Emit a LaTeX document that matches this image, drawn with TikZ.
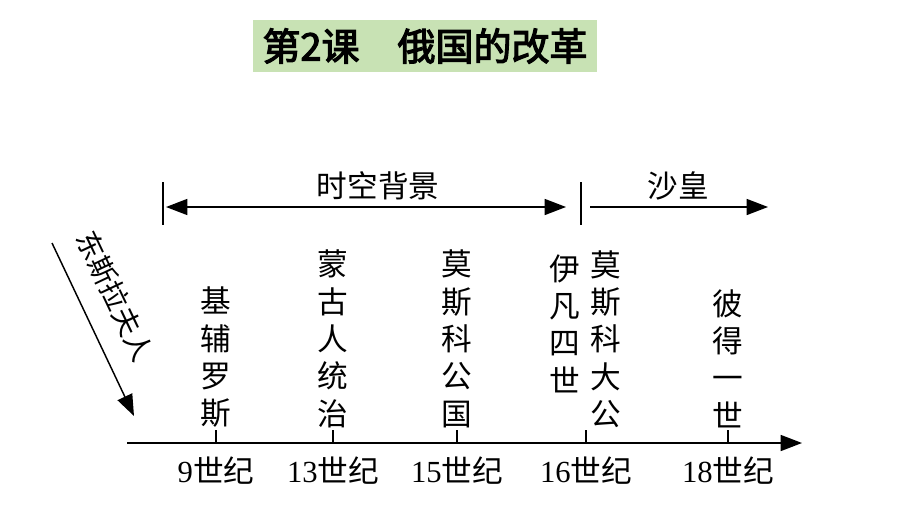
\documentclass[tikz,border=0pt]{standalone}
\usepackage{fontspec}
\usetikzlibrary{arrows.meta}
\setmainfont{Liberation Serif}
\newfontfamily\cjk{Noto Sans CJK SC}
\newfontfamily\cjkb{Noto Sans CJK SC}[FakeBold=3]
\definecolor{titlegreen}{RGB}{200,226,180}
\tikzset{
  axis/.style={line width=1.1pt, -{Triangle[length=16pt,width=12pt]}},
  tick/.style={line width=0.9pt},
  vlabel/.style={font=\cjk\fontsize{23}{28}\selectfont, align=center, inner sep=0pt, anchor=south},
  clabel/.style={font=\fontsize{23}{26}\selectfont, inner sep=0pt},
  toplabel/.style={font=\cjk\fontsize{23}{26}\selectfont, inner sep=0pt},
}
\begin{document}
\begin{tikzpicture}[x=0.75pt,y=-0.75pt]
\useasboundingbox (0,0) rectangle (920,518);
% title
\node[fill=titlegreen, minimum width=344*0.75pt, minimum height=52*0.75pt, inner sep=0pt,
  font=\cjkb\fontsize{28.5}{30}\selectfont] (title) at (425,46) {第2课\hspace{1em}俄国的改革};
% axis
\coordinate (a0) at (127,443);
\coordinate (a1) at (802,443);
\draw[axis] (a0) -- (a1);
% ticks and labels
\foreach \x/\n/\lab in {216/t1/9, 333/t2/13, 457/t3/15, 586/t4/16, 728/t5/18}{
  \coordinate (\n) at (\x,443);
  \draw[tick] (\n) -- ++(0,-13);
  \node[clabel, anchor=center] (\n lab) at (\x,471) {\lab{\cjk 世纪}};
}
% vertical labels
\node[vlabel] (v1) at (216,428) {基\\辅\\罗\\斯};
\node[vlabel] (v2) at (333,428) {蒙\\古\\人\\统\\治};
\node[vlabel] (v3) at (457,428) {莫\\斯\\科\\公\\国};
\node[vlabel] (v4) at (565,393) {伊\\凡\\四\\世};
\node[vlabel] (v5) at (606,428) {莫\\斯\\科\\大\\公};
\node[vlabel] (v6) at (728,428) {彼\\得\\一\\世};
% top arrows
\coordinate (b0) at (163,182);
\coordinate (b0e) at (163,225);
\coordinate (b1) at (581,182);
\coordinate (b1e) at (581,225);
\draw[tick] (b0) -- (b0e);
\draw[tick] (b1) -- (b1e);
\coordinate (l0) at (166,207);
\coordinate (l1) at (566,207);
\coordinate (r0) at (590,207);
\coordinate (r1) at (768,207);
\draw[line width=1.1pt, {Triangle[length=16pt,width=12pt]}-{Triangle[length=16pt,width=12pt]}] (l0) -- (l1);
\draw[axis] (r0) -- (r1);
\node[toplabel] (bg) at (378,186) {时空背景};
\node[toplabel] (sh) at (678,186) {沙皇};
% diagonal
\coordinate (d0) at (52,243);
\coordinate (d1) at (134,416);
\draw[axis] (d0) -- (d1);
\node[font=\cjk\fontsize{21}{24}\selectfont, rotate=-64.6, inner sep=0pt] (dong) at (115,296) {东斯拉夫人};
\end{tikzpicture}
\end{document}
